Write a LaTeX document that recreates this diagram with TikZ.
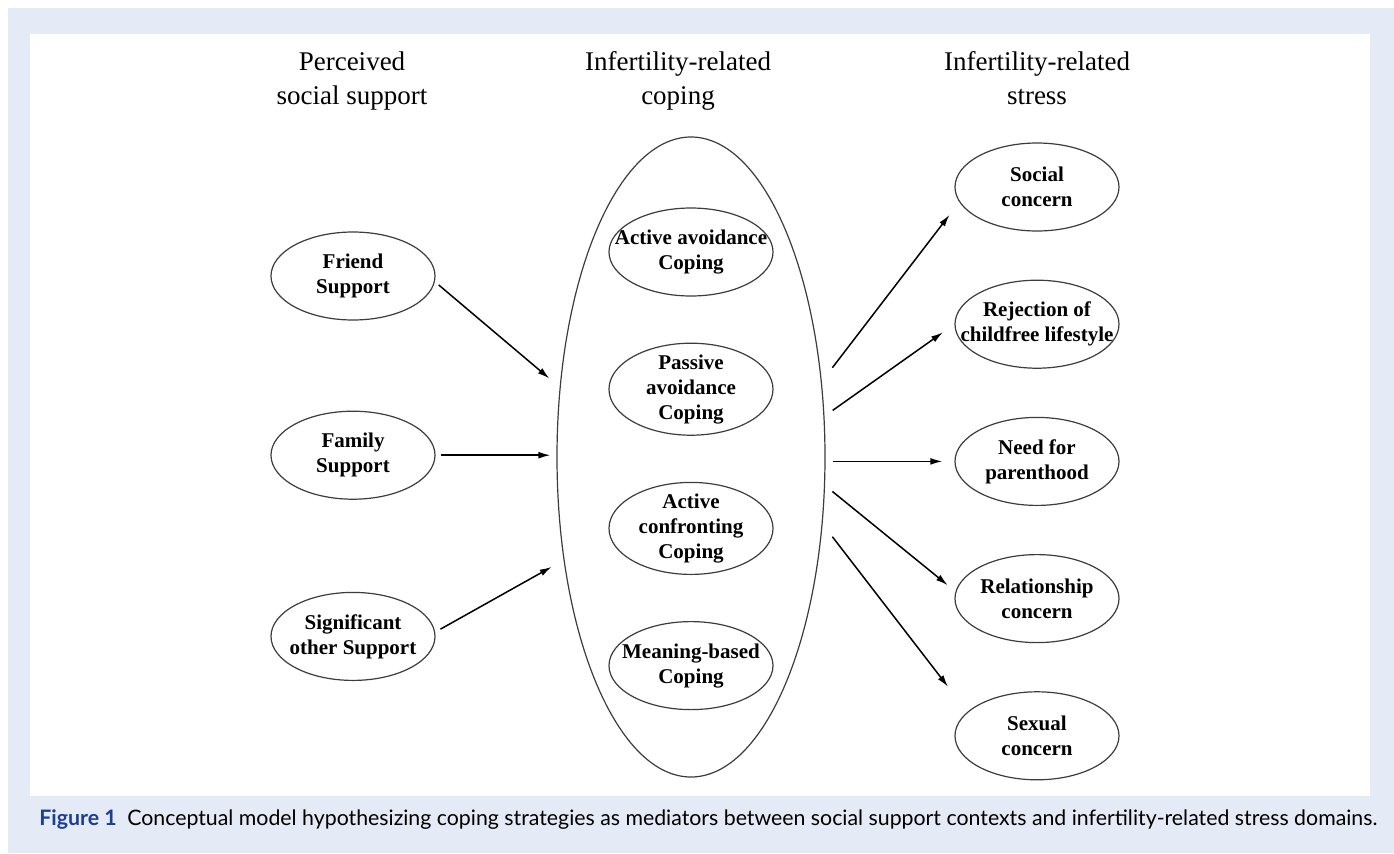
\documentclass[tikz,border=0pt]{standalone}
\usepackage{fontspec}
\setmainfont{Liberation Serif}
\newfontfamily\captionfont{Lato}
\usetikzlibrary{positioning}
\usetikzlibrary{arrows.meta}
\usetikzlibrary{shapes.geometric}
\definecolor{panelblue}{RGB}{228,235,246}
\definecolor{figblue}{RGB}{30,62,145}
\definecolor{rimgray}{RGB}{60,60,60}
\tikzset{
  factor/.style={draw=rimgray, line width=0.6pt, ellipse, minimum width=82pt, minimum height=44pt,
    inner xsep=-25pt, inner ysep=-2pt, align=center, font=\bfseries\fontsize{10.5}{12.5}\selectfont},
  tall/.style={minimum height=46pt},
  heading/.style={anchor=north, inner sep=0pt, align=center, font=\fontsize{13.5}{17}\selectfont},
  link/.style={-{Latex[length=6pt,width=3.4pt]}, line width=0.75pt}
}

\begin{document}
\begin{tikzpicture}[x=0.5pt,y=-0.5pt]
\useasboundingbox (0,0) rectangle (1394,853);
\fill[panelblue] (8,8) rectangle (1394,853);
\fill[white] (30,34) rectangle (1370,796);
% column headings
\node[heading](hsupport) at (352,51){Perceived\\social support};
\node[heading](hcoping) at (678,51){Infertility-related\\coping};
\node[heading](hstress) at (1037,51){Infertility-related\\stress};
% social support
\node[factor](friend) at (353,276){Friend\\Support};
\node[factor, below = 45pt of friend](family){Family\\Support};
\node[factor, below = 46pt of family](signif){Significant\\other Support};
% coping
\node[draw=rimgray, line width=0.6pt, ellipse, minimum width=134pt, minimum height=320pt](coping) at (691,457){};
\node[factor](avoid) at (691,252){Active avoidance\\Coping};
\node[factor, tall, below = 23pt of avoid](passive){Passive\\avoidance\\Coping};
\node[factor, tall, below = 23pt of passive](confront){Active\\confronting\\Coping};
\node[factor, below = 23pt of confront](meaning){Meaning-based\\Coping};
% stress
\node[factor](social) at (1037,187){Social\\concern};
\node[factor, below = 24pt of social](reject){Rejection of\\childfree lifestyle};
\node[factor, below = 24pt of reject](need){Need for\\parenthood};
\node[factor, below = 24pt of need](relation){Relationship\\concern};
\node[factor, below = 24pt of relation](sexual){Sexual\\concern};
% paths
\path (friend.-4) edge[link, shorten <=2.5pt, shorten >=6.7pt] (coping.152);
\path (family.east) edge[link, shorten <=2.5pt, shorten >=3pt] (family.east -| coping.west);
\path (signif.3) edge[link, shorten <=3pt, shorten >=6.8pt] (coping.219);
\path (coping.30) edge[link, shorten <=8.7pt, shorten >=8pt] (social.191);
\path (coping.17) edge[link, shorten <=5pt, shorten >=7pt] (reject.180);
\path (need.west -| coping.east) edge[link, shorten <=3.5pt, shorten >=6pt] (need.west);
\path (coping.-12) edge[link, shorten <=4.7pt, shorten >=5pt] (relation.175);
\path (coping.-27) edge[link, shorten <=8pt, shorten >=15.8pt] (sexual.161);
% caption
\node[anchor=base west, inner sep=0pt, font=\captionfont\fontsize{10.65}{12}\selectfont](caption) at (39,825)
  {{\bfseries\color{figblue}Figure 1}\enspace Conceptual model hypothesizing coping strategies as mediators between social support contexts and infertility-related stress domains.};
\end{tikzpicture}
\end{document}
